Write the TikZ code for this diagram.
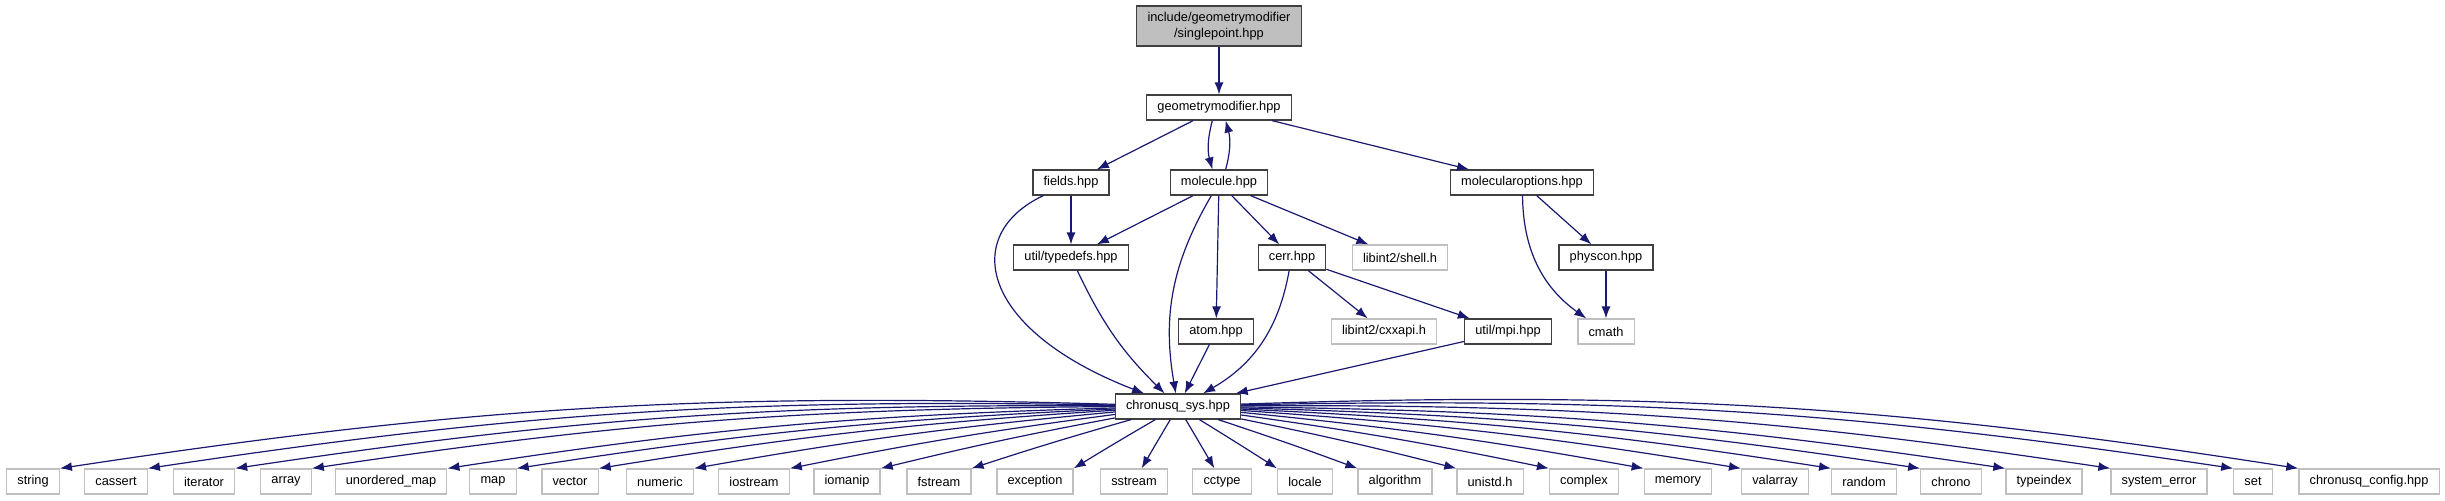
\documentclass[tikz,border=0pt]{standalone}
\usepackage{fontspec}
\setmainfont{Liberation Sans}
\usetikzlibrary{arrows.meta}
\definecolor{edgeblue}{RGB}{25, 25, 112}
\definecolor{boxgrey}{RGB}{64, 64, 64}
\definecolor{extgrey}{RGB}{191, 191, 191}

\begin{document}
\begin{tikzpicture}[
    x=0.75pt, y=-0.75pt,
    font=\fontsize{9.6}{12}\selectfont,
    file/.style={rectangle, draw=boxgrey, fill=white, line width=0.9pt, inner xsep=8pt, inner ysep=0pt, minimum height=18.75pt},
    sysfile/.style={file, draw=extgrey},
    rootfile/.style={file, fill=extgrey, align=center, minimum height=30pt},
    dep/.style={draw=edgeblue, line width=0.9pt, -{Latex[length=9pt,width=6.75pt]}}
]
\useasboundingbox (0,0) rectangle (2445,500);

\node [rootfile] (root) at (1219,26) {include/geometrymodifier\\/singlepoint.hpp};
\node [file] (gm) at (1219,107.5) {geometrymodifier.hpp};
\node [file] (fields) at (1071,182.5) {fields.hpp};
\node [file] (mol) at (1219,182.5) {molecule.hpp};
\node [file] (molopt) at (1522,182.5) {molecularoptions.hpp};
\node [file] (typedefs) at (1071,257.5) {util/typedefs.hpp};
\node [file] (cerr) at (1292,257.5) {cerr.hpp};
\node [sysfile] (shell) at (1400,257.5) {libint2/shell.h};
\node [file] (physcon) at (1606,257.5) {physcon.hpp};
\node [file] (atom) at (1216,331.5) {atom.hpp};
\node [sysfile] (cxxapi) at (1384,331.5) {libint2/cxxapi.h};
\node [file] (mpi) at (1508,331.5) {util/mpi.hpp};
\node [sysfile] (cmath) at (1606,331.5) {cmath};
\node [file] (sys) at (1178,406.5) {chronusq\_sys.hpp};

\draw [dep] (root) -- (gm);
\draw [dep] (gm) -- (fields);
\draw [dep] ([xshift=-5pt]gm.south) to[bend right=15] ([xshift=-5pt]mol.north);
\draw [dep] ([xshift=5pt]mol.north) to[bend right=15] ([xshift=5pt]gm.south);
\draw [dep] (gm) -- (molopt);
\draw [dep] (fields) -- (typedefs);
\draw [dep] (fields) .. controls (960,235) and (980,330) .. (sys);
\draw [dep] (mol) -- (typedefs);
\draw [dep] (mol) to[bend right=20] (sys);
\draw [dep] (mol) -- (atom);
\draw [dep] (mol) -- (cerr);
\draw [dep] (mol) -- (shell);
\draw [dep] (molopt) -- (physcon);
\draw [dep] (molopt) to[bend right=27] (cmath);
\draw [dep] (physcon) -- (cmath);
\draw [dep] (typedefs) to[bend right=10] (sys);
\draw [dep] (cerr) to[bend left=25] (sys);
\draw [dep] (cerr) -- (cxxapi);
\draw [dep] (cerr) -- (mpi);
\draw [dep] (atom) -- (sys);
\draw [dep] (mpi) -- (sys);

\foreach \x/\id/\txt in {33/string/string, 116/cassert/cassert, 204/iterator/iterator,
    286/array/array, 391/umap/unordered\_map, 493/map/map, 570/vector/vector,
    660/numeric/numeric, 754/iostream/iostream, 847/iomanip/iomanip, 939/fstream/fstream,
    1035/exception/exception, 1134/sstream/sstream, 1222/cctype/cctype, 1305/locale/locale,
    1395/algorithm/algorithm, 1490/unistd/unistd.h, 1584/complex/complex, 1678/memory/memory,
    1775/valarray/valarray, 1864/random/random, 1951/chrono/chrono, 2044/typeindex/typeindex,
    2159/syserror/system\_error, 2253/set/set, 2369/config/chronusq\_config.hpp} {
  \node [sysfile] (\id) at (\x,481.5) {\txt};
  \pgfmathsetmacro{\bend}{(1178-\x)*0.0045}
  \ifnum\x<1100 \edef\tgt{\id.north east}\else\ifnum\x>1260 \edef\tgt{\id.north west}\else\edef\tgt{\id}\fi\fi
  \draw [dep] (sys) to[bend right=\bend] (\tgt);
}

\end{tikzpicture}
\end{document}
